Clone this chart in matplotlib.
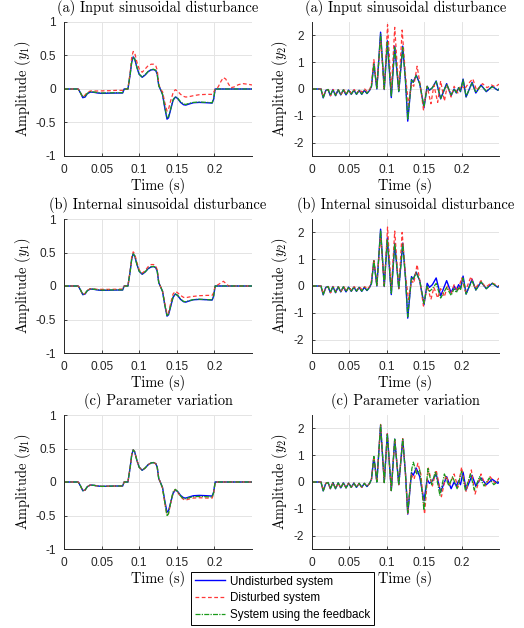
import matplotlib.pyplot as plt
import matplotlib as mpl

mpl.rcParams['axes.unicode_minus'] = False
mpl.rcParams['mathtext.fontset'] = 'cm'

# ---- y1 data (shared time grid) ----
t1 = [0, 0.019, 0.022, 0.025, 0.028, 0.031, 0.035, 0.040, 0.045, 0.050,
      0.060, 0.070, 0.078, 0.080, 0.085, 0.088, 0.090, 0.092, 0.094, 0.097,
      0.100, 0.104, 0.108, 0.112, 0.116, 0.119, 0.122, 0.124, 0.126, 0.128,
      0.131, 0.134, 0.137, 0.139, 0.142, 0.145, 0.148, 0.151, 0.155, 0.159,
      0.162, 0.166, 0.172, 0.180, 0.190, 0.197, 0.199, 0.201, 0.205, 0.209,
      0.212, 0.215, 0.219, 0.222, 0.226, 0.232, 0.238, 0.245, 0.250]

y1_undist = [0, 0, -0.06, -0.13, -0.12, -0.07, -0.045, -0.05, -0.06, -0.065,
             -0.062, -0.06, -0.06, 0, 0, 0.22, 0.40, 0.48, 0.45, 0.32,
             0.22, 0.175, 0.21, 0.26, 0.285, 0.29, 0.275, 0.22, 0.05, 0,
             -0.08, -0.28, -0.45, -0.43, -0.30, -0.17, -0.12, -0.14, -0.20, -0.235,
             -0.24, -0.225, -0.205, -0.20, -0.205, -0.21, -0.15, 0, 0, 0,
             0, 0, 0, 0, 0, 0, 0, 0, 0]

y1_dist_a = [0, 0, -0.06, -0.12, -0.09, -0.05, -0.03, -0.03, -0.03, -0.028,
             -0.025, -0.02, -0.02, 0, 0, 0.25, 0.47, 0.56, 0.54, 0.40,
             0.30, 0.25, 0.30, 0.35, 0.37, 0.37, 0.35, 0.28, 0.08, 0,
             -0.04, -0.20, -0.33, -0.30, -0.17, -0.06, -0.01, -0.03, -0.08, -0.11,
             -0.12, -0.115, -0.10, -0.085, -0.08, -0.08, -0.05, 0, 0.03, 0.12,
             0.17, 0.15, 0.07, 0.02, 0.03, 0.065, 0.08, 0.07, 0.06]

y1_fb_a = [0, 0, -0.06, -0.12, -0.11, -0.065, -0.04, -0.045, -0.055, -0.06,
           -0.058, -0.056, -0.055, 0, 0, 0.22, 0.40, 0.47, 0.45, 0.32,
           0.22, 0.18, 0.215, 0.265, 0.29, 0.295, 0.28, 0.22, 0.05, 0,
           -0.08, -0.27, -0.43, -0.41, -0.29, -0.16, -0.115, -0.135, -0.19, -0.225,
           -0.23, -0.215, -0.20, -0.195, -0.20, -0.205, -0.14, 0, 0, 0,
           0, 0, 0, 0, 0, 0, 0, 0, 0]

y1_dist_b = [0, 0, -0.06, -0.13, -0.11, -0.065, -0.04, -0.045, -0.05, -0.05,
             -0.05, -0.048, -0.045, 0, 0, 0.23, 0.43, 0.51, 0.48, 0.35,
             0.24, 0.19, 0.23, 0.29, 0.32, 0.32, 0.30, 0.24, 0.06, 0,
             -0.07, -0.25, -0.42, -0.40, -0.25, -0.12, -0.08, -0.10, -0.14, -0.17,
             -0.175, -0.165, -0.155, -0.145, -0.14, -0.14, -0.10, 0, 0.02, 0.05,
             0.07, 0.04, 0, 0, 0, 0, 0, 0, 0]

y1_fb_b = [0, 0, -0.06, -0.125, -0.115, -0.068, -0.043, -0.048, -0.057, -0.062,
           -0.06, -0.058, -0.057, 0, 0, 0.22, 0.40, 0.48, 0.45, 0.32,
           0.22, 0.178, 0.212, 0.262, 0.288, 0.292, 0.278, 0.22, 0.05, 0,
           -0.08, -0.28, -0.44, -0.42, -0.29, -0.165, -0.118, -0.138, -0.195, -0.23,
           -0.235, -0.22, -0.203, -0.198, -0.203, -0.208, -0.145, 0, 0, 0,
           0, 0, 0, 0, 0, 0, 0, 0, 0]

y1_dist_c = [0, 0, -0.06, -0.13, -0.12, -0.07, -0.045, -0.05, -0.06, -0.065,
             -0.062, -0.06, -0.06, 0, 0, 0.22, 0.40, 0.48, 0.45, 0.32,
             0.22, 0.175, 0.21, 0.26, 0.285, 0.29, 0.275, 0.22, 0.05, 0,
             -0.09, -0.31, -0.50, -0.47, -0.31, -0.16, -0.11, -0.15, -0.22, -0.26,
             -0.27, -0.255, -0.24, -0.235, -0.24, -0.24, -0.17, 0, 0, 0,
             0, 0, 0, 0, 0, 0, 0, 0, 0]

y1_fb_c = [0, 0, -0.06, -0.13, -0.12, -0.07, -0.045, -0.05, -0.06, -0.065,
           -0.062, -0.06, -0.06, 0, 0, 0.22, 0.40, 0.48, 0.45, 0.32,
           0.22, 0.175, 0.21, 0.26, 0.285, 0.29, 0.275, 0.22, 0.05, 0,
           -0.09, -0.30, -0.51, -0.47, -0.30, -0.15, -0.11, -0.14, -0.21, -0.25,
           -0.25, -0.235, -0.22, -0.215, -0.22, -0.225, -0.16, 0, 0, 0,
           0, 0, 0, 0, 0, 0, 0, 0, 0]

# ---- y2 data ----
t2 = [0, 0.012, 0.015, 0.0185, 0.0215, 0.0245, 0.028, 0.0315, 0.035, 0.0385,
      0.042, 0.0455, 0.049, 0.0525, 0.056, 0.0595, 0.063, 0.0665, 0.070, 0.0735,
      0.077, 0.0795, 0.0827, 0.0867, 0.0917, 0.0966, 0.1007, 0.1060, 0.1106, 0.1160,
      0.1213, 0.1250, 0.1280, 0.1330, 0.1353, 0.1393, 0.1440, 0.1497, 0.1540, 0.1570,
      0.1610, 0.1660, 0.1720, 0.1800, 0.1860, 0.1900, 0.1930, 0.1960, 0.1985, 0.2020,
      0.2060, 0.2140, 0.2190, 0.2260, 0.2330, 0.2410, 0.2485, 0.2500]

y2_undist = [0, 0, -0.33, -0.05, -0.02, -0.25, -0.02, -0.25, -0.03, -0.22,
             -0.03, -0.22, -0.04, -0.20, -0.04, -0.20, -0.05, -0.20, -0.05, -0.17,
             -0.05, 0.1, 0.95, 0.0, 2.12, -0.02, 1.80, -0.32, 1.60, -0.10,
             1.60, 0.30, -1.20, 0.35, 0.25, 0.52, 0.20, -0.70, 0.10, -0.05,
             0.05, 0.30, -0.37, 0.20, -0.25, 0.0, -0.15, 0.05, -0.10, 0.37,
             -0.30, 0.25, -0.15, 0.15, -0.10, 0.10, -0.05, 0.0]

y2_fb_a = [0, 0, -0.32, -0.05, -0.02, -0.24, -0.02, -0.24, -0.03, -0.21,
           -0.03, -0.21, -0.04, -0.19, -0.04, -0.19, -0.05, -0.19, -0.05, -0.16,
           -0.05, 0.1, 0.93, 0.02, 2.05, 0.0, 1.75, -0.28, 1.55, -0.08,
           1.55, 0.30, -1.15, 0.33, 0.25, 0.50, 0.20, -0.65, 0.10, -0.05,
           0.05, 0.28, -0.35, 0.18, -0.22, 0.0, -0.13, 0.05, -0.08, 0.35,
           -0.28, 0.22, -0.13, 0.13, -0.08, 0.08, -0.04, 0.0]

y2_fb_b = [0, 0, -0.32, -0.05, -0.02, -0.24, -0.02, -0.24, -0.03, -0.21,
           -0.03, -0.21, -0.04, -0.19, -0.04, -0.19, -0.05, -0.19, -0.05, -0.16,
           -0.05, 0.1, 0.93, 0.02, 2.08, 0.0, 1.75, -0.30, 1.58, -0.08,
           1.55, 0.30, -1.15, 0.33, 0.25, 0.50, 0.20, -0.65, 0.0, -0.20,
           -0.10, 0.10, -0.45, -0.05, -0.35, -0.10, -0.25, -0.05, -0.15, 0.30,
           -0.30, 0.20, -0.15, 0.15, -0.10, 0.10, -0.05, 0.0]

y2_dist_a = [(0, 0), (0.012, 0), (0.015, -0.3), (0.0185, -0.05), (0.022, -0.03),
             (0.025, -0.25), (0.0285, -0.02), (0.032, -0.22), (0.0355, -0.03),
             (0.039, -0.2), (0.0425, -0.02), (0.046, -0.2), (0.0495, -0.03),
             (0.053, -0.18), (0.0565, -0.02), (0.060, -0.16), (0.0635, -0.02),
             (0.067, -0.12), (0.0705, 0.0), (0.074, -0.1), (0.0775, 0.0),
             (0.0795, 0.2), (0.0827, 1.1), (0.0867, 0.05), (0.0917, 1.9),
             (0.0966, -0.05), (0.1010, 2.4), (0.1060, -0.1), (0.1106, 2.3),
             (0.1160, -0.05), (0.1205, 2.2), (0.1250, 0.5), (0.1290, -0.6),
             (0.1330, 0.2), (0.1360, 0.1), (0.1405, 0.85), (0.1450, 0.1),
             (0.1490, -0.78), (0.1540, 0.1), (0.1590, -0.55), (0.1630, 0.15),
             (0.1680, -0.5), (0.1720, 0.3), (0.1770, -0.45), (0.1810, 0.15),
             (0.1860, -0.3), (0.1900, 0.1), (0.1950, -0.15), (0.1990, 0.15),
             (0.2040, 0.0), (0.2090, 0.2), (0.2150, 0.38), (0.2200, -0.05),
             (0.2280, 0.2), (0.2340, 0.05), (0.2400, 0.15), (0.2450, 0.08),
             (0.2500, 0.18)]

y2_dist_b = [(0, 0), (0.012, 0), (0.015, -0.3), (0.0185, -0.05), (0.022, -0.03),
             (0.025, -0.25), (0.0285, -0.02), (0.032, -0.22), (0.0355, -0.03),
             (0.039, -0.2), (0.0425, -0.02), (0.046, -0.2), (0.0495, -0.03),
             (0.053, -0.18), (0.0565, -0.02), (0.060, -0.17), (0.0635, -0.02),
             (0.067, -0.15), (0.0705, -0.02), (0.074, -0.12), (0.0775, 0.0),
             (0.0795, 0.2), (0.0827, 1.0), (0.0867, 0.03), (0.0917, 1.95),
             (0.0966, -0.05), (0.101, 2.2), (0.106, -0.15), (0.1106, 2.05),
             (0.116, -0.1), (0.1205, 2.0), (0.125, 0.4), (0.129, -0.5),
             (0.133, 0.2), (0.136, 0.1), (0.1405, 0.8), (0.145, 0.05),
             (0.149, -0.75), (0.154, 0.0), (0.159, -0.5), (0.163, -0.05),
             (0.168, -0.45), (0.172, -0.1), (0.177, -0.4), (0.181, 0.0),
             (0.186, -0.3), (0.190, 0.05), (0.195, -0.2), (0.200, 0.3),
             (0.205, -0.2), (0.2125, 0.35), (0.218, -0.1), (0.226, 0.2),
             (0.232, -0.05), (0.240, 0.12), (0.250, 0.0)]

y2_dist_c = [(0, 0), (0.012, 0), (0.015, -0.33), (0.0185, -0.05), (0.0215, -0.02),
             (0.0245, -0.25), (0.028, -0.02), (0.0315, -0.25), (0.035, -0.03),
             (0.0385, -0.22), (0.042, -0.03), (0.0455, -0.22), (0.049, -0.04),
             (0.0525, -0.2), (0.056, -0.04), (0.0595, -0.2), (0.063, -0.05),
             (0.0665, -0.2), (0.070, -0.05), (0.0735, -0.17), (0.077, -0.05),
             (0.0795, 0.1), (0.0827, 0.95), (0.0867, 0.0), (0.0917, 2.15),
             (0.0966, -0.02), (0.1007, 1.8), (0.106, -0.32), (0.1106, 1.62),
             (0.116, -0.1), (0.1213, 1.62), (0.125, 0.3), (0.128, -1.18),
             (0.1325, 0.3), (0.1365, 0.1), (0.1415, 0.7), (0.1455, 0.3),
             (0.1505, -1.2), (0.1555, 0.52), (0.161, -0.15), (0.166, 0.45),
             (0.173, -0.55), (0.179, 0.25), (0.184, -0.1), (0.190, 0.3),
             (0.195, -0.2), (0.200, 0.55), (0.206, -0.35), (0.213, 0.45),
             (0.218, -0.45), (0.226, 0.3), (0.232, -0.15), (0.238, 0.2),
             (0.245, -0.05), (0.250, 0.15)]

y2_fb_c = [(0, 0), (0.012, 0), (0.015, -0.33), (0.0185, -0.05), (0.0215, -0.02),
           (0.0245, -0.25), (0.028, -0.02), (0.0315, -0.25), (0.035, -0.03),
           (0.0385, -0.22), (0.042, -0.03), (0.0455, -0.22), (0.049, -0.04),
           (0.0525, -0.2), (0.056, -0.04), (0.0595, -0.2), (0.063, -0.05),
           (0.0665, -0.2), (0.070, -0.05), (0.0735, -0.17), (0.077, -0.05),
           (0.0795, 0.1), (0.0827, 0.95), (0.0867, 0.0), (0.0917, 2.13),
           (0.0966, -0.02), (0.1007, 1.8), (0.106, -0.32), (0.1106, 1.6),
           (0.116, -0.1), (0.1213, 1.6), (0.125, 0.3), (0.128, -1.15),
           (0.1335, 0.5), (0.1355, 0.74), (0.140, 0.3), (0.144, 0.45),
           (0.1497, -1.05), (0.155, 0.5), (0.160, -0.1), (0.165, 0.4),
           (0.171, -0.5), (0.177, 0.3), (0.183, -0.15), (0.188, 0.2),
           (0.194, -0.25), (0.200, 0.4), (0.205, -0.3), (0.212, 0.3),
           (0.217, -0.3), (0.224, 0.2), (0.230, -0.15), (0.237, 0.15),
           (0.243, -0.1), (0.250, 0.05)]

titles_left = ['(a) Input sinusoidal disturbance', '(b) Internal sinusoidal disturbance',
               '(c) Parameter variation']
titles_right = titles_left
labels = ['Undisturbed system', 'Disturbed system', 'System using the feedback']

c_blue, c_red, c_green = '#0000ff', '#ff3838', '#1a9a1a'

fig = plt.figure(figsize=(5.24, 6.28), dpi=100)

W, H = 524, 628
rows_px = [(22, 156), (219, 353), (415, 549)]
cols_px = [(64, 252), (312, 499)]

left_series = [(y1_dist_a, y1_fb_a), (y1_dist_b, y1_fb_b), (y1_dist_c, y1_fb_c)]
right_series = [(list(zip(*y2_dist_a)), (t2, y2_fb_a)),
                (list(zip(*y2_dist_b)), (t2, y2_fb_b)),
                (list(zip(*y2_dist_c)), list(zip(*y2_fb_c)))]

serif = dict(fontfamily='cmr10', fontsize=10.4)


def style(ax, ylim, yticks, ylabel, title):
    ax.set_xlim(0, 0.25)
    ax.set_ylim(*ylim)
    ax.set_xticks([0, 0.05, 0.1, 0.15, 0.2])
    ax.set_xticklabels(['0', '0.05', '0.1', '0.15', '0.2'])
    ax.set_yticks(yticks)
    ax.set_yticklabels([('%g' % v) for v in yticks])
    for lab in ax.get_xticklabels() + ax.get_yticklabels():
        lab.set_fontfamily('Liberation Sans')
        lab.set_fontsize(8.6)
    ax.tick_params(direction='in', length=2.5, width=0.6, colors='#262626', pad=6)
    ax.grid(True, color='#e4e4e4', linewidth=0.7)
    ax.set_axisbelow(True)
    for s in ['top', 'right']:
        ax.spines[s].set_visible(False)
    for s in ['left', 'bottom']:
        ax.spines[s].set_color('#262626')
        ax.spines[s].set_linewidth(0.7)
    ax.set_xlabel('Time (s)', labelpad=1.5, **serif)
    ax.set_ylabel(ylabel, labelpad=2, **serif)
    ax.set_title(title, pad=7, **serif)


lines = None
for r, (top, bot) in enumerate(rows_px):
    # left column: y1
    x0, x1 = cols_px[0]
    ax = fig.add_axes([x0 / W, 1 - bot / H, (x1 - x0) / W, (bot - top) / H])
    d, f = left_series[r]
    l1, = ax.plot(t1, y1_undist, color=c_blue, lw=1.0)
    l2, = ax.plot(t1, d, color=c_red, lw=0.9, ls=(0, (3, 2)))
    l3, = ax.plot(t1, f, color=c_green, lw=0.9, ls=(0, (4, 1, 1, 1)))
    style(ax, (-1, 1), [-1, -0.5, 0, 0.5, 1], 'Amplitude ($y_1$)', titles_left[r])
    lines = (l1, l2, l3)

    # right column: y2
    x0, x1 = cols_px[1]
    ax = fig.add_axes([x0 / W, 1 - bot / H, (x1 - x0) / W, (bot - top) / H])
    (dt, dy), (ft, fy) = right_series[r]
    ax.plot(t2, y2_undist, color=c_blue, lw=1.0)
    ax.plot(dt, dy, color=c_red, lw=0.9, ls=(0, (3, 2)))
    ax.plot(ft, fy, color=c_green, lw=0.9, ls=(0, (4, 1, 1, 1)))
    style(ax, (-2.5, 2.5), [-2, -1, 0, 1, 2], 'Amplitude ($y_2$)', titles_right[r])

leg = fig.legend(lines, labels, loc='upper left', bbox_to_anchor=(191 / W, 1 - 572 / H),
                 borderaxespad=0, fancybox=False, edgecolor='black', framealpha=1,
                 prop={'family': 'Liberation Sans', 'size': 8.4}, handlelength=2.6,
                 handletextpad=0.45, labelspacing=0.42, borderpad=0.3)
leg.get_frame().set_linewidth(0.7)

fig.savefig('out.png', dpi=100)
